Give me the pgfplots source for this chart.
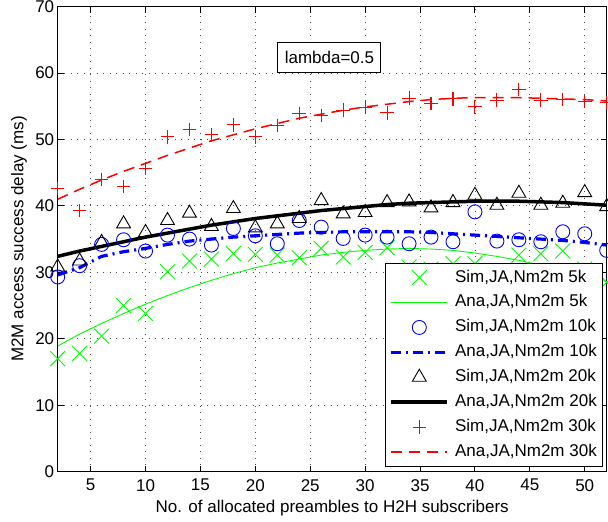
\documentclass[border=0pt]{standalone}
\usepackage{fontspec}
\setmainfont{Liberation Sans}
\usepackage{pgfplots}
\pgfplotsset{compat=1.18}

\pgfplotsset{
  legline/.style={legend image code/.code={%
    \draw[mark repeat=2,mark phase=2,##1] plot coordinates {(0pt,0pt) (28pt,0pt) (56pt,0pt)};}},
}

\begin{document}
\begin{tikzpicture}
\useasboundingbox (-57.7pt,-50.3pt) rectangle (550.3pt,471.6pt);
\begin{axis}[
  scale only axis,
  width=549pt, height=465pt,
  at={(0,0)}, anchor=south west,
  xmin=2, xmax=52, ymin=0, ymax=70,
  xtick={5,10,...,50}, ytick={0,10,...,70},
  font=\fontsize{17}{20}\selectfont,
  /pgf/number format/assume math mode=true,
  tick align=inside, tick pos=both,
  major tick length=6pt,
  axis line style={line width=1.2pt},
  every tick/.style={black, line width=1pt},
  xticklabel style={yshift=-4pt},
  grid=major,
  grid style={black!70, line width=0.8pt, dash pattern=on 1pt off 5.5pt},
  xlabel={No. of allocated preambles to H2H subscribers},
  ylabel={M2M access success delay (ms)},
  every axis x label/.style={at={(axis description cs:0.5,0)}, yshift=-41pt, anchor=base},
  every axis y label/.style={at={(axis description cs:0,0.5)}, xshift=-34.4pt, rotate=90, anchor=base},
  legend cell align=left,
  legend style={at={(rel axis cs:0.9938,0.0101)}, anchor=south east,
    draw=black, line width=1pt, fill=white,
    inner xsep=4pt, inner ysep=2pt,
    nodes={inner xsep=2pt, inner ysep=4.5pt, text height=12.3pt, text depth=3.6pt},
    /tikz/every odd column/.append style={column sep=4pt}},
]
% Sim 5k
\addplot[only marks, mark=x, mark size=10.5pt, color=green, mark options={green, line width=0.9pt}, legline] coordinates {
  (2,17.0) (4,17.8) (6,20.4) (8,25.0) (10,23.8) (12,30.1) (14,31.7) (16,32.0) (18,32.8)
  (20,32.7) (22,32.6) (24,32.2) (26,33.6) (28,32.3) (30,33.0) (32,33.7) (34,30.8) (36,30.5)
  (38,31.3) (40,31.3) (42,30.0) (44,32.6) (46,32.8) (48,33.2) (50,30.5) (52,28.5)
};
% Ana 5k
\addplot[color=green, line width=0.9pt, legline] coordinates {
  (2,18.9) (4,20.7) (6,22.3) (8,23.8) (10,25.2) (12,26.5) (14,27.7) (16,28.8) (18,29.8)
  (20,30.7) (22,31.4) (24,32.0) (26,32.6) (28,33.0) (30,33.3) (32,33.5) (34,33.6) (36,33.5)
  (38,33.3) (40,32.9) (42,32.4) (44,31.8) (46,31.1) (48,30.3) (50,29.5) (52,28.6)
};
% Sim 10k
\addplot[only marks, mark=o, mark size=7pt, color=blue, mark options={blue, line width=0.9pt}, legline] coordinates {
  (2,29.3) (4,31.0) (6,34.2) (8,34.9) (10,33.2) (12,35.6) (14,35.0) (16,34.1) (18,36.6)
  (20,35.5) (22,34.3) (24,37.8) (26,36.8) (28,35.1) (30,35.6) (32,35.3) (34,34.3) (36,35.3)
  (38,34.6) (40,39.1) (42,34.7) (44,34.9) (46,34.6) (48,36.1) (50,35.8) (52,33.3)
};
% Ana 10k
\addplot[color=blue, line width=3.2pt, dash pattern=on 10pt off 5pt on 2pt off 5pt, legline] coordinates {
  (2,29.6) (4,30.7) (6,32.4) (8,33.1) (10,33.6) (12,34.2) (14,34.7) (16,35.0) (18,35.3)
  (20,35.5) (22,35.7) (24,35.9) (26,36.0) (28,36.1) (30,36.1) (32,36.1) (34,36.1) (36,36.0)
  (38,35.8) (40,35.6) (42,35.4) (44,35.2) (46,35.0) (48,34.8) (50,34.5) (52,34.1)
};
% Sim 20k
\addplot[only marks, mark=triangle, mark size=8pt, color=black, mark options={black, line width=0.9pt}, legline] coordinates {
  (2,30.8) (4,31.7) (6,34.5) (8,37.3) (10,36.0) (12,37.8) (14,38.9) (16,36.9) (18,39.6)
  (20,36.7) (22,37.3) (24,38.1) (26,40.8) (28,38.8) (30,39.0) (32,40.5) (34,40.6) (36,39.7)
  (38,40.5) (40,41.6) (42,40.1) (44,41.9) (46,40.1) (48,40.4) (50,42.0) (52,39.9)
};
% Ana 20k
\addplot[color=black, line width=3.5pt, legline] coordinates {
  (2,32.4) (4,33.2) (6,33.9) (8,34.6) (10,35.3) (12,35.9) (14,36.5) (16,37.1) (18,37.6)
  (20,38.1) (22,38.5) (24,38.9) (26,39.3) (28,39.6) (30,39.9) (32,40.2) (34,40.4) (36,40.5)
  (38,40.6) (40,40.7) (42,40.7) (44,40.7) (46,40.6) (48,40.5) (50,40.3) (52,40.1)
};
% Sim 30k
\addplot[only marks, mark=+, mark size=6.8pt, color=red, mark options={red, line width=1.1pt}, legline] coordinates {
  (2,42.6) (4,39.3) (6,44.0) (8,42.9) (10,45.6) (12,50.4) (14,51.5) (16,50.7) (18,52.2)
  (20,50.4) (22,52.1) (24,53.9) (26,53.6) (28,54.4) (30,54.8) (32,54.0) (34,56.2) (36,55.4)
  (38,56.1) (40,54.9) (42,55.9) (44,57.5) (46,55.9) (48,56.0) (50,55.7) (52,55.5)
};
% Ana 30k
\addplot[color=red, line width=1.5pt, dash pattern=on 11pt off 7pt, legline] coordinates {
  (2,41.0) (4,42.5) (6,43.9) (8,45.2) (10,46.4) (12,47.6) (14,48.7) (16,49.8) (18,50.7)
  (20,51.6) (22,52.4) (24,53.2) (26,53.8) (28,54.4) (30,54.9) (32,55.3) (34,55.7) (36,56.0)
  (38,56.2) (40,56.3) (42,56.3) (44,56.3) (46,56.2) (48,56.1) (50,56.0) (52,55.8)
};
\legend{{Sim,JA,Nm2m 5k}, {Ana,JA,Nm2m 5k}, {Sim,JA,Nm2m 10k}, {Ana,JA,Nm2m 10k},
  {Sim,JA,Nm2m 20k}, {Ana,JA,Nm2m 20k}, {Sim,JA,Nm2m 30k}, {Ana,JA,Nm2m 30k}}
\node[draw=black, fill=white, line width=1pt, minimum width=103pt, minimum height=30pt, inner sep=0pt]
  at (axis cs:26.75,62.4) {lambda=0.5};
\end{axis}
\end{tikzpicture}
\end{document}
